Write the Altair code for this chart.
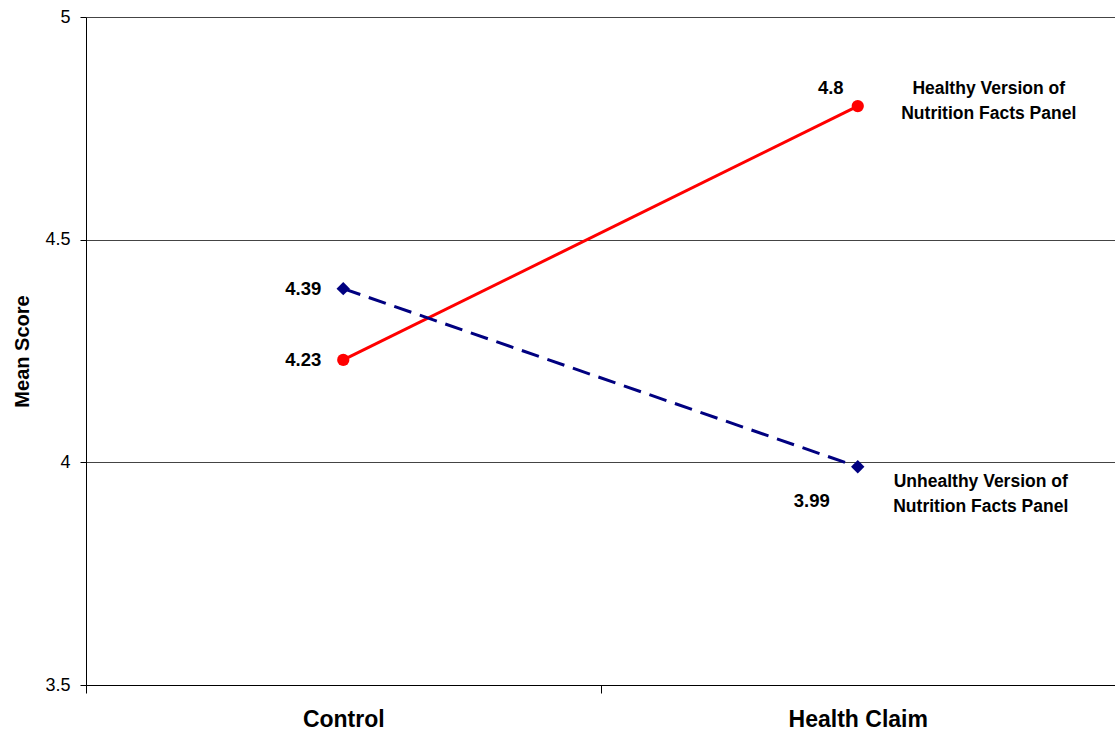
import altair as alt
import pandas as pd

# Mean scores by claim condition for each version of the Nutrition Facts panel
conditions = ["Control", "Health Claim"]
healthy_scores = [4.23, 4.8]
unhealthy_scores = [4.39, 3.99]
series_names = ["Healthy Version of\nNutrition Facts Panel",
                "Unhealthy Version of\nNutrition Facts Panel"]

healthy = pd.DataFrame({"condition": conditions, "score": healthy_scores,
                        "label": [f"{v:g}" for v in healthy_scores]})
unhealthy = pd.DataFrame({"condition": conditions, "score": unhealthy_scores,
                          "label": [f"{v:g}" for v in unhealthy_scores]})

FONT = "Liberation Sans"

x_enc = alt.X("condition:N", sort=conditions,
              scale=alt.Scale(paddingInner=0, paddingOuter=0),
              axis=alt.Axis(title=None, labelAngle=0, labelFontSize=23,
                            labelFontWeight="bold", labelColor="black",
                            labelPadding=15, tickBand="extent", tickSize=8,
                            tickColor="black", domainColor="black",
                            labelFont=FONT))
y_scale = alt.Scale(domain=[3.5, 5], nice=False, zero=False)
y_enc = alt.Y("score:Q", scale=y_scale,
              axis=alt.Axis(title="Mean Score", values=[3.5, 4, 4.5, 5],
                            labelExpr="'' + datum.value",
                            labelFontSize=18, labelColor="black",
                            labelFont=FONT, labelPadding=10,
                            tickSize=6, tickColor="black", domainColor="black",
                            gridColor="#444444", gridWidth=1,
                            titleFontSize=20, titleFontWeight="bold",
                            titleFont=FONT, titleColor="black",
                            titlePadding=12))

red = "#ff0000"
navy = "#000080"

healthy_line = alt.Chart(healthy).mark_line(color=red, strokeWidth=3).encode(x=x_enc, y=y_enc)
healthy_pts = alt.Chart(healthy).mark_circle(color=red, size=150, opacity=1).encode(
    x="condition:N", y="score:Q")
unhealthy_line = alt.Chart(unhealthy).mark_line(
    color=navy, strokeWidth=3, strokeDash=[18, 9]).encode(x="condition:N", y="score:Q")
unhealthy_pts = alt.Chart(unhealthy).mark_point(
    shape="diamond", color=navy, filled=True, size=180, opacity=1).encode(
    x="condition:N", y="score:Q")

text_style = dict(font=FONT, fontWeight="bold", fontSize=18.5, color="black")


def value_label(df, cond, **kw):
    return alt.Chart(df[df.condition == cond]).mark_text(
        baseline="middle", **text_style, **kw).encode(
        x="condition:N", y="score:Q", text="label:N")


# Value labels: left of the Control points, above/below at Health Claim
h_ctrl = value_label(healthy, "Control", align="right", dx=-22)
h_claim = value_label(healthy, "Health Claim", align="center", dx=-27, dy=-18)
u_ctrl = value_label(unhealthy, "Control", align="right", dx=-22)
u_claim = value_label(unhealthy, "Health Claim", align="center", dx=-46, dy=34)


# Series names beside the Health Claim points
def series_label(name, score, dx, dy):
    df = pd.DataFrame({"condition": ["Health Claim"], "score": [score], "name": [name]})
    return alt.Chart(df).mark_text(
        align="center", baseline="middle", lineBreak="\n", lineHeight=25,
        dx=dx, dy=dy, font=FONT, fontWeight="bold", fontSize=17.5,
        color="black").encode(x="condition:N", y="score:Q", text="name:N")


healthy_name = series_label(series_names[0], healthy_scores[1], 131, -17)
unhealthy_name = series_label(series_names[1], unhealthy_scores[1], 123, 15)

chart = alt.layer(
    healthy_line, unhealthy_line, healthy_pts, unhealthy_pts,
    h_ctrl, h_claim, u_ctrl, u_claim, healthy_name, unhealthy_name,
).properties(
    width=1029, height=668,
    autosize=alt.AutoSizeParams(type="none"),
    padding={"left": 86, "top": 17, "right": 0, "bottom": 53},
).configure_view(stroke=None).configure(background="white")

chart.save("out.html", embed_options={"renderer": "svg", "actions": False})
